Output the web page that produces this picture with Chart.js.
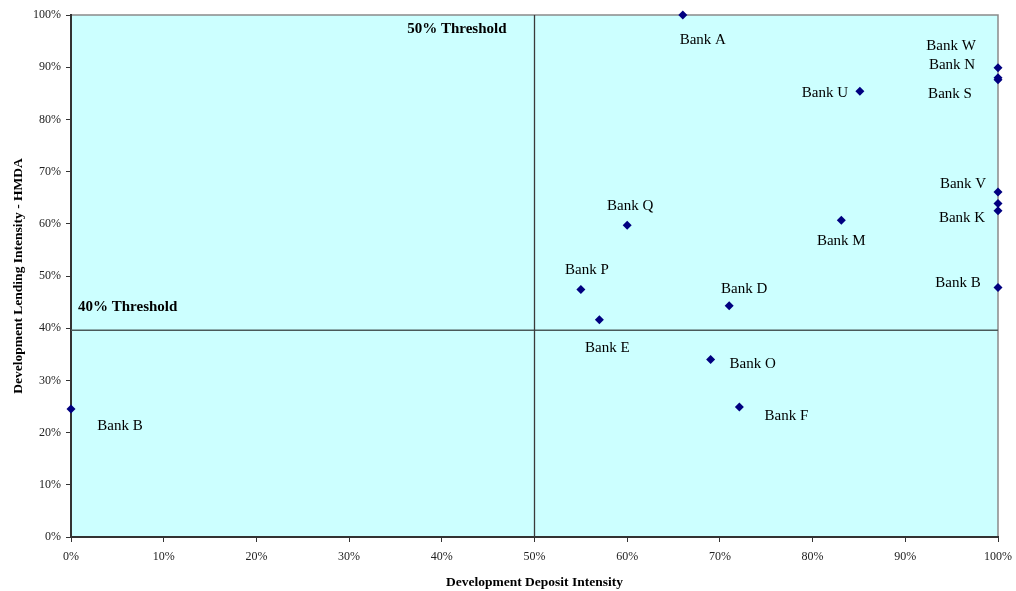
<!DOCTYPE html>
<html>
<head>
<meta charset="utf-8">
<script src="https://cdn.jsdelivr.net/npm/chart.js@4.4.1/dist/chart.umd.min.js"></script>
<style>
  html, body { margin: 0; padding: 0; background: #ffffff; }
  #wrap { width: 1016px; height: 591px; }
</style>
</head>
<body>
<div id="wrap"><canvas id="chart" width="1016" height="591"></canvas></div>
<script>
// Bank names, deposit intensity (x, %) and lending intensity (y, %)
const bankNames = ["Bank A", "Bank W", "Bank N", "Bank S", "Bank U", "Bank V", "", "Bank K",
  "Bank M", "Bank Q", "Bank B", "Bank P", "Bank D", "Bank E", "Bank O", "Bank F", "Bank B"];
const depositIntensity = [66, 100, 100, 100, 85.1, 100, 100, 100,
  83.1, 60, 100, 55, 71, 57, 69, 72.1, 0];
const lendingIntensity = [100, 89.9, 88, 87.6, 85.4, 66.1, 63.9, 62.5,
  60.7, 59.7, 47.8, 47.4, 44.3, 41.6, 34, 24.9, 24.5];

// threshold lines
const depositThreshold = 50;
const lendingThreshold = 39.6;
const thresholdLabels = ["50% Threshold", "40% Threshold"];

const xTicks = [0, 10, 20, 30, 40, 50, 60, 70, 80, 90, 100];
const yTicks = [0, 10, 20, 30, 40, 50, 60, 70, 80, 90, 100];

// where each bank's label sits relative to its marker (px)
const labelOffsets = [[20, 25], [-47, -22], [-46, -13], [-48, 14], [-35, 2], [-35, -8], [0, 0], [-36, 7],
  [0, 21], [3, -19], [-40, -4], [6, -20], [15, -17], [8, 28], [42, 5], [47, 9], [49, 17]];

const points = depositIntensity.map((x, i) => ({ x: x, y: lendingIntensity[i] }));

const serif = "'Liberation Serif', 'Times New Roman', serif";

const plotDecor = {
  id: 'plotDecor',
  beforeDraw(chart) {
    const { ctx, chartArea: a } = chart;
    ctx.save();
    ctx.fillStyle = '#CCFFFF';
    ctx.fillRect(a.left, a.top, a.right - a.left, a.bottom - a.top);
    ctx.strokeStyle = '#8a8a8a';
    ctx.lineWidth = 1.5;
    ctx.beginPath();
    ctx.moveTo(a.left, a.top);
    ctx.lineTo(a.right, a.top);
    ctx.lineTo(a.right, a.bottom);
    ctx.stroke();
    ctx.restore();
  },
  afterDatasetsDraw(chart) {
    const { ctx } = chart;
    const xs = chart.scales.x, ys = chart.scales.y;
    ctx.save();
    ctx.fillStyle = '#000';
    ctx.font = 'bold 15px ' + serif;
    ctx.textBaseline = 'middle';
    ctx.textAlign = 'right';
    ctx.fillText(thresholdLabels[0], xs.getPixelForValue(depositThreshold) - 28, ys.getPixelForValue(97.2));
    ctx.textAlign = 'left';
    ctx.fillText(thresholdLabels[1], xs.getPixelForValue(0) + 7, ys.getPixelForValue(44.1));

    ctx.font = '15px ' + serif;
    ctx.textAlign = 'center';
    const meta = chart.getDatasetMeta(2);
    meta.data.forEach((pt, i) => {
      if (!bankNames[i]) return;
      const off = labelOffsets[i];
      ctx.fillText(bankNames[i], pt.x + off[0], pt.y + off[1]);
    });
    ctx.restore();
  }
};

new Chart(document.getElementById('chart'), {
  type: 'scatter',
  data: {
    datasets: [
      {
        data: [{ x: depositThreshold, y: 0 }, { x: depositThreshold, y: 100 }],
        showLine: true,
        borderColor: '#3a3a3a',
        borderWidth: 1.3,
        pointRadius: 0
      },
      {
        data: [{ x: 0, y: lendingThreshold }, { x: 100, y: lendingThreshold }],
        showLine: true,
        borderColor: '#4a5a5a',
        borderWidth: 1.5,
        pointRadius: 0
      },
      {
        data: points,
        pointStyle: 'rectRot',
        pointRadius: 4.5,
        backgroundColor: '#000080',
        borderColor: '#000080',
        borderWidth: 0
      }
    ]
  },
  options: {
    responsive: false,
    animation: false,
    clip: false,
    layout: { padding: { top: 15, right: 18, left: 0, bottom: 0 } },
    plugins: {
      legend: { display: false },
      tooltip: { enabled: false }
    },
    scales: {
      x: {
        type: 'linear',
        min: 0,
        max: 100,
        afterBuildTicks: (s) => { s.ticks = xTicks.map(v => ({ value: v })); },
        afterFit: (s) => { s.height = 54; s.paddingLeft = 0; s.paddingRight = 0; },
        ticks: {
          callback: (v) => v + '%',
          color: '#222',
          font: { family: serif, size: 12 },
          padding: 8,
          maxRotation: 0
        },
        grid: { drawOnChartArea: false, drawTicks: true, tickLength: 5, tickColor: '#333', color: '#333' },
        border: { color: '#333', width: 2 },
        title: {
          display: true,
          text: 'Development Deposit Intensity',
          color: '#000',
          font: { family: serif, size: 13.5, weight: 'bold' },
          padding: { top: 6, bottom: 0 }
        }
      },
      y: {
        type: 'linear',
        min: 0,
        max: 100,
        afterBuildTicks: (s) => { s.ticks = yTicks.map(v => ({ value: v })); },
        afterFit: (s) => { s.width = 71; s.paddingTop = 0; s.paddingBottom = 0; },
        ticks: {
          callback: (v) => v + '%',
          color: '#222',
          font: { family: serif, size: 12 },
          padding: 5
        },
        grid: { drawOnChartArea: false, drawTicks: true, tickLength: 5, tickColor: '#333', color: '#333' },
        border: { color: '#333', width: 2 },
        title: {
          display: true,
          text: 'Development Lending Intensity - HMDA',
          color: '#000',
          font: { family: serif, size: 13.5, weight: 'bold' },
          padding: { top: 10, bottom: 0 }
        }
      }
    }
  },
  plugins: [plotDecor]
});
</script>
</body>
</html>
